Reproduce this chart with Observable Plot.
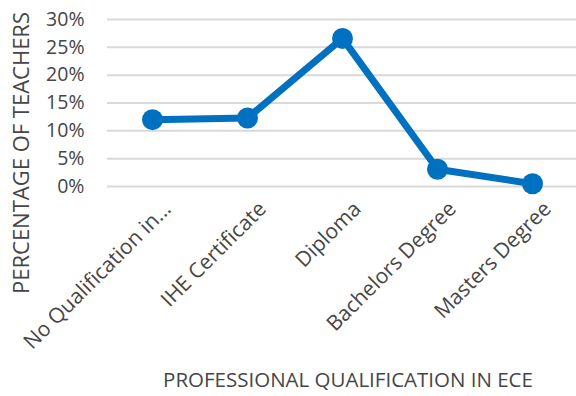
<!DOCTYPE html>
<html><head><meta charset="utf-8">
<script src="https://cdn.jsdelivr.net/npm/d3@7"></script>
<script src="https://cdn.jsdelivr.net/npm/@observablehq/plot@0.6"></script>
<style>body{margin:0;background:#fff} #chart{width:576px;height:396px}</style>
</head><body><div id="chart"></div>
<script>
const categories = ["No Qualification in...", "IHE Certificate", "Diploma", "Bachelors Degree", "Masters Degree"];
const percentages = [12.0, 12.3, 26.6, 3.1, 0.5];
const yTicks = [0, 5, 10, 15, 20, 25, 30];
const yTitle = "PERCENTAGE OF TEACHERS";
const xTitle = "PROFESSIONAL QUALIFICATION IN ECE";

const data = categories.map((c, i) => ({category: c, value: percentages[i]}));
const blue = "#0070C0";
const textColor = "#464646";

const chart = Plot.plot({
  width: 576, height: 396,
  marginLeft: 107, marginRight: 0, marginTop: 19, marginBottom: 210,
  style: {fontFamily: "'Open Sans', sans-serif", background: "#fff", color: textColor},
  x: {type: "point", domain: categories, padding: 0.46},
  y: {domain: [0, 30]},
  marks: [
    Plot.gridY({ticks: yTicks, stroke: "#d9d9d9", strokeOpacity: 1, strokeWidth: 2}),
    Plot.axisY({ticks: yTicks, tickSize: 0, tickPadding: 23, tickFormat: d => d + "%", fontSize: 19.5, label: null, fill: textColor}),
    Plot.axisX({tickSize: 0, tickRotate: -45, tickPadding: 19, dx: 15, fontSize: 21, label: null, fill: textColor}),
    Plot.line(data, {x: "category", y: "value", stroke: blue, strokeWidth: 7}),
    Plot.dot(data, {x: "category", y: "value", r: 10.5, fill: blue}),
    Plot.text([yTitle], {frameAnchor: "left", textAnchor: "middle", lineAnchor: "middle", rotate: -90, dx: -86, dy: 50, fontSize: 22, fill: textColor}),
    Plot.text([xTitle], {frameAnchor: "bottom", textAnchor: "middle", lineAnchor: "middle", dy: 194, dx: 6, fontSize: 20.5, fill: textColor})
  ]
});
document.getElementById("chart").append(chart);
</script>
</body></html>
